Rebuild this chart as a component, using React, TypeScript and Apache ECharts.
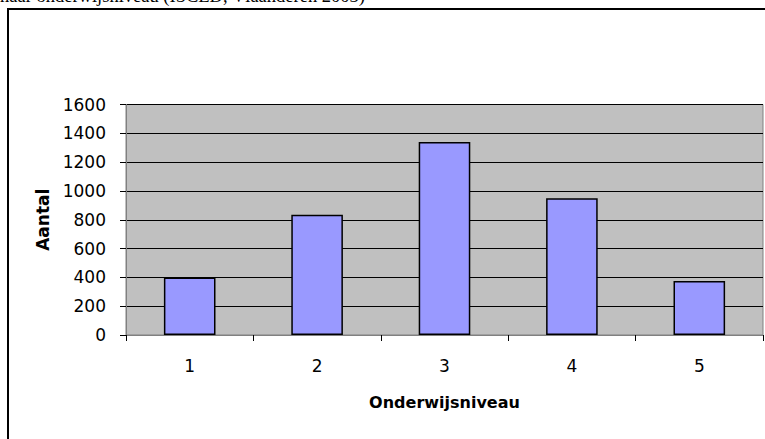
import React, { useEffect, useRef } from "react";
import * as echarts from "echarts";

const categories = ["1", "2", "3", "4", "5"];
const counts = [400, 835, 1340, 950, 375];
const yTicks = [0, 200, 400, 600, 800, 1000, 1200, 1400, 1600];
const titleText = "naar onderwijsniveau (ISCED, Vlaanderen 2003)";
const xAxisName = "Onderwijsniveau";
const yAxisName = "Aantal";

export default function App() {
  const ref = useRef<HTMLDivElement>(null);
  useEffect(() => {
    if (!ref.current) return;
    const chart = echarts.init(ref.current, null, { renderer: "svg" });
    const font = "'DejaVu Sans', sans-serif";
    chart.setOption({
      animation: false,
      backgroundColor: "#ffffff",
      textStyle: { fontFamily: font },
      graphic: [
        {
          type: "rect",
          z: -10,
          shape: { x: 8, y: 9, width: 800, height: 500 },
          style: { fill: "#ffffff", stroke: "#000000", lineWidth: 2 },
        },
        {
          type: "text",
          x: 0,
          y: -14,
          style: {
            text: titleText,
            fontFamily: "'Liberation Serif', 'Times New Roman', serif",
            fontSize: 18.5,
            fill: "#000000",
          },
        },
      ],
      grid: {
        left: 126,
        right: 2,
        top: 104.5,
        bottom: 104,
        show: true,
        backgroundColor: "#C0C0C0",
        borderColor: "#808080",
        borderWidth: 1,
      },
      xAxis: {
        type: "category",
        data: categories,
        boundaryGap: true,
        name: xAxisName,
        nameLocation: "middle",
        nameGap: 59,
        nameTextStyle: { fontSize: 16, fontWeight: "bold", color: "#000", fontFamily: font },
        axisLine: { lineStyle: { color: "#808080", width: 1 } },
        axisTick: { show: true, length: 6, lineStyle: { color: "#000" } },
        axisLabel: { fontSize: 17, color: "#000", margin: 22, fontFamily: font },
        splitLine: { show: false },
      },
      yAxis: {
        type: "value",
        min: yTicks[0],
        max: yTicks[yTicks.length - 1],
        interval: 200,
        name: yAxisName,
        nameLocation: "middle",
        nameGap: 74,
        nameRotate: 90,
        nameTextStyle: { fontSize: 17, fontWeight: "bold", color: "#000", fontFamily: font },
        axisLine: { show: true, lineStyle: { color: "#808080", width: 1 } },
        axisTick: { show: true, length: 6, lineStyle: { color: "#000" } },
        axisLabel: {
          fontSize: 17,
          color: "#000",
          margin: 20,
          fontFamily: font,
          formatter: (v: number) => String(v),
        },
        splitLine: { show: true, lineStyle: { color: "#000000", width: 1 } },
      },
      series: [
        {
          type: "bar",
          data: counts,
          barWidth: "40.5%",
          itemStyle: { color: "#9999FF", borderColor: "#000000", borderWidth: 1.5 },
        },
      ],
    });
    return () => chart.dispose();
  }, []);
  return (
    <div
      ref={ref}
      style={{ position: "fixed", left: 0, top: 0, width: 765, height: 439 }}
    />
  );
}
